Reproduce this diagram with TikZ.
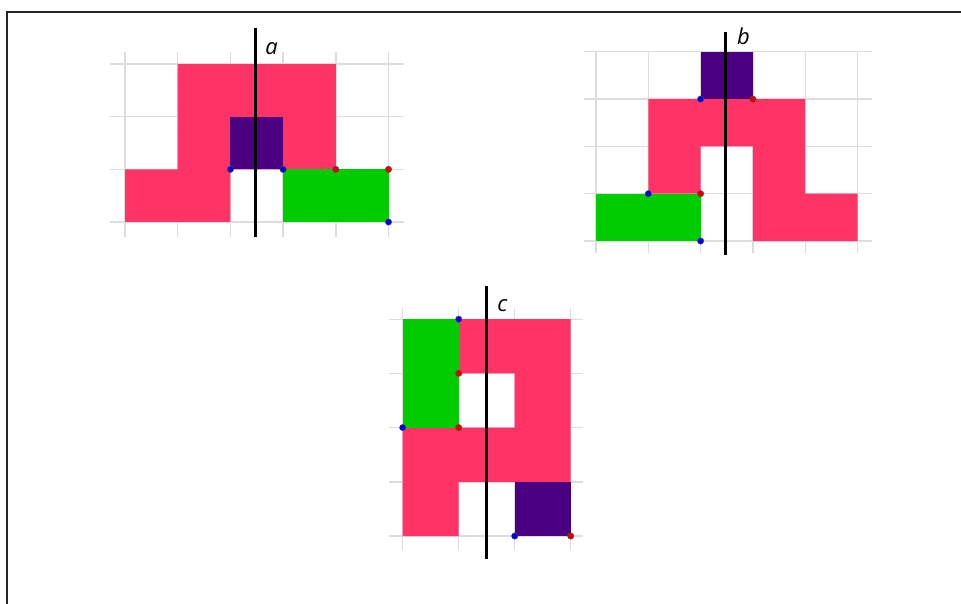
\documentclass[tikz,border=0pt]{standalone}
\usepackage{fontspec}
\newfontfamily\lblfont{Open Sans}
\definecolor{pinkc}{HTML}{FF3366}
\definecolor{purpc}{HTML}{4B0082}
\definecolor{greenc}{HTML}{00CC00}
\definecolor{gridc}{HTML}{DDDDDD}
\definecolor{dotblue}{HTML}{0000DD}
\definecolor{dotred}{HTML}{DD0000}
\tikzset{
  gridline/.style={draw=gridc, line width=1.4pt},
  pinkfill/.style={fill=pinkc},
  purpfill/.style={fill=purpc},
  greenfill/.style={fill=greenc},
  axisline/.style={draw=black, line width=2.8pt},
  bdot/.style={fill=dotblue, draw=black!70, line width=0.4pt},
  rdot/.style={fill=dotred, draw=black!70, line width=0.4pt},
  axlabel/.style={font=\lblfont\itshape\fontsize{22}{25}\selectfont, inner sep=0pt},
  frameline/.style={draw=black!85, line width=1.8pt}
}
\begin{document}
\begin{tikzpicture}[x=1pt,y=1pt]
\useasboundingbox (0,-604) rectangle (961,0);
\fill[white] (0,-604) rectangle (961,0);
% frame (top and left)
\draw[frameline] (7,-604) -- (7,-12) -- (961,-12);

% ---------- figure a ----------
\begin{scope}[shift={(125,-222)}, x=52.7pt, y=52.6pt]
  \foreach \i in {0,...,5} \draw[gridline] (\i,-0.28) -- (\i,3.23);
  \foreach \j in {0,...,3} \draw[gridline] (-0.28,\j) -- (5.3,\j);
  \fill[pinkfill] (0,0) -- (2,0) -- (2,1) -- (4,1) -- (4,3) -- (1,3) -- (1,1) -- (0,1) -- cycle;
  \fill[purpfill] (2,1) rectangle (3,2);
  \fill[greenfill] (3,0) rectangle (5,1);
  \coordinate (aTop) at (2.47,3.69);
  \coordinate (aBot) at (2.47,-0.285);
  \draw[axisline] (aBot) -- (aTop);
  \node[axlabel] (la) at (2.78,3.3) {a};
  \fill[bdot] (2,1) circle (3.2pt);
  \fill[bdot] (3,1) circle (3.2pt);
  \fill[bdot] (5,0) circle (3.2pt);
  \fill[rdot] (4,1) circle (3.2pt);
  \fill[rdot] (5,1) circle (3.2pt);
\end{scope}

% ---------- figure b ----------
\begin{scope}[shift={(596,-241)}, x=52.3pt, y=47.3pt]
  \foreach \i in {0,...,5} \draw[gridline] (\i,-0.25) -- (\i,4);
  \foreach \j in {0,...,4} \draw[gridline] (-0.23,\j) -- (5.28,\j);
  \fill[pinkfill] (1,1) -- (2,1) -- (2,2) -- (3,2) -- (3,0) -- (5,0) -- (5,1) -- (4,1) -- (4,3) -- (1,3) -- cycle;
  \fill[purpfill] (2,3) rectangle (3,4);
  \fill[greenfill] (0,0) rectangle (2,1);
  \coordinate (bTop) at (2.47,4.42);
  \coordinate (bBot) at (2.47,-0.3);
  \draw[axisline] (bBot) -- (bTop);
  \node[axlabel] (lb) at (2.82,4.32) {b};
  \fill[bdot] (2,3) circle (3.2pt);
  \fill[bdot] (1,1) circle (3.2pt);
  \fill[bdot] (2,0) circle (3.2pt);
  \fill[rdot] (3,3) circle (3.2pt);
  \fill[rdot] (2,1) circle (3.2pt);
\end{scope}

% ---------- figure c ----------
\begin{scope}[shift={(402.7,-536)}, x=56pt, y=54.2pt]
  \foreach \i in {0,...,3} \draw[gridline] (\i,-0.26) -- (\i,4.2);
  \foreach \j in {0,...,4} \draw[gridline] (-0.245,\j) -- (3.22,\j);
  \fill[pinkfill] (0,0) -- (1,0) -- (1,1) -- (3,1) -- (3,4) -- (1,4) -- (1,3) -- (2,3) -- (2,2) -- (0,2) -- cycle;
  \fill[purpfill] (2,0) rectangle (3,1);
  \fill[greenfill] (0,2) rectangle (1,4);
  \coordinate (cTop) at (1.5,4.61);
  \coordinate (cBot) at (1.5,-0.42);
  \draw[axisline] (cBot) -- (cTop);
  \node[axlabel] (lc) at (1.78,4.25) {c};
  \fill[bdot] (1,4) circle (3.2pt);
  \fill[bdot] (0,2) circle (3.2pt);
  \fill[bdot] (2,0) circle (3.2pt);
  \fill[rdot] (1,3) circle (3.2pt);
  \fill[rdot] (1,2) circle (3.2pt);
  \fill[rdot] (3,0) circle (3.2pt);
\end{scope}
\end{tikzpicture}
\end{document}
